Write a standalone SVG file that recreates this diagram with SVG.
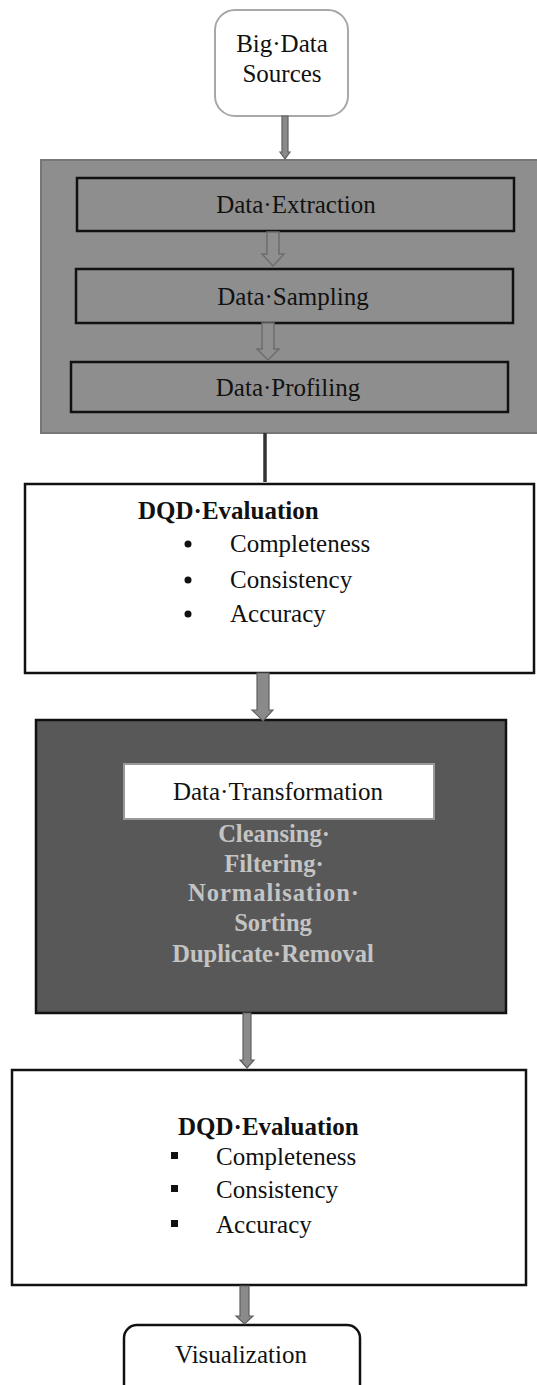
<svg xmlns="http://www.w3.org/2000/svg" width="537" height="1385" viewBox="0 0 537 1385">
<style>
text{font-family:"Liberation Serif","Times New Roman",serif;font-size:25px;fill:#111}
.b{font-weight:bold}
.lt{font-weight:bold;fill:#c4c4c4;text-anchor:middle;font-size:24.5px}
.c{text-anchor:middle}
.box{fill:none;stroke:#111;stroke-width:2.5}
.arr{fill:#8a8a8a;stroke:#606060;stroke-width:1.2}
.hol{fill:#8f8f8f;stroke:#6e6e6e;stroke-width:1.5}
</style>
<rect width="537" height="1385" fill="#fff"/>
<g id="sources">
<rect x="215" y="10" width="133" height="106" rx="20" fill="#fff" stroke="#a8a8a8" stroke-width="2"/>
<text x="282" y="52" class="c">Big·Data</text>
<text x="282" y="82" class="c">Sources</text>
</g>
<g id="preprocessing">
<rect x="41" y="160" width="500" height="273" fill="#8e8e8e" stroke="#777" stroke-width="2"/>
<g id="extraction">
<rect x="77" y="178" width="437" height="53" class="box"/>
<text x="296" y="213" class="c">Data·Extraction</text>
</g>
<g id="sampling">
<rect x="76" y="269" width="437" height="54" class="box"/>
<text x="293" y="305" class="c">Data·Sampling</text>
</g>
<g id="profiling">
<rect x="71" y="362" width="437" height="50" class="box"/>
<text x="288" y="396" class="c">Data·Profiling</text>
</g>
</g>
<g id="dqd1">
<rect x="25" y="484" width="509" height="189" fill="#fff" stroke="#111" stroke-width="2.5"/>
<text x="138" y="519" class="b">DQD·Evaluation</text>
<circle cx="188" cy="544" r="3.5" fill="#111"/>
<circle cx="188" cy="580" r="3.5" fill="#111"/>
<circle cx="188" cy="614" r="3.5" fill="#111"/>
<text x="230" y="552">Completeness</text>
<text x="230" y="588">Consistency</text>
<text x="230" y="622">Accuracy</text>
</g>
<g id="transformation">
<rect x="36" y="720" width="470" height="293" fill="#585858" stroke="#111" stroke-width="2.5"/>
<rect x="124" y="764" width="310" height="55" fill="#fff" stroke="#999" stroke-width="2"/>
<text x="278" y="800" class="c">Data·Transformation</text>
<text x="274" y="842" class="lt">Cleansing·</text>
<text x="274" y="872" class="lt">Filtering·</text>
<text x="274" y="901" class="lt" letter-spacing="1">Normalisation·</text>
<text x="273" y="931" class="lt">Sorting</text>
<text x="273" y="962" class="lt">Duplicate·Removal</text>
</g>
<g id="dqd2">
<rect x="12" y="1070" width="514" height="215" fill="#fff" stroke="#111" stroke-width="2.5"/>
<text x="178" y="1135" class="b">DQD·Evaluation</text>
<rect x="171" y="1152" width="7" height="7" fill="#111"/>
<rect x="171" y="1185" width="7" height="7" fill="#111"/>
<rect x="171" y="1220" width="7" height="7" fill="#111"/>
<text x="216" y="1165">Completeness</text>
<text x="216" y="1198">Consistency</text>
<text x="216" y="1233">Accuracy</text>
</g>
<g id="visualization">
<rect x="124" y="1325" width="236" height="75" rx="13" fill="#fff" stroke="#111" stroke-width="2.5"/>
<text x="241" y="1363" class="c">Visualization</text>
</g>
<g id="connectors">
<polygon class="arr" points="282,116 288,116 288,152 290,152 285,159 280,152 282,152"/>
<polygon class="hol" points="267,232 279,232 279,254 284,254 273,266 262,254 267,254"/>
<polygon class="hol" points="262,323 274,323 274,349 279,349 268,360 257,349 262,349"/>
<line x1="265" y1="433" x2="265" y2="482" stroke="#333" stroke-width="3.5"/>
<polygon class="arr" points="257,673 269,673 269,710 273,710 263,721 252,710 257,710"/>
<polygon class="arr" points="243,1013 251,1013 251,1060 254,1060 247,1068 240,1060 243,1060"/>
<polygon class="arr" points="240,1286 249,1286 249,1316 253,1316 244.5,1324 236,1316 240,1316"/>
</g>
</svg>
